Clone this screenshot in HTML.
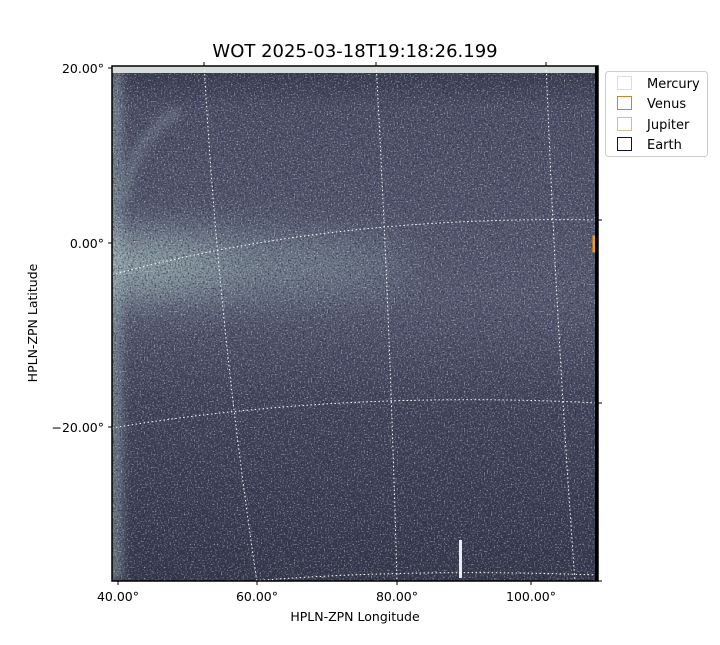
<!DOCTYPE html>
<html><head><meta charset="utf-8"><style>
body{margin:0;background:#fff;width:720px;height:640px;overflow:hidden;font-family:"Liberation Sans","DejaVu Sans",sans-serif}
</style></head><body>
<svg width="720" height="640" xmlns="http://www.w3.org/2000/svg" font-family="DejaVu Sans, Liberation Sans, sans-serif">
<defs>
<filter id="n" x="0" y="0" width="100%" height="100%">
<feTurbulence type="fractalNoise" baseFrequency="0.7" numOctaves="1" seed="4"/>
<feColorMatrix type="matrix" values="0 0 0 0 0.85  0 0 0 0 0.9  0 0 0 0 0.92  0 0 0 3.5 -1.9"/>
</filter>
<filter id="d" x="0" y="0" width="100%" height="100%">
<feTurbulence type="fractalNoise" baseFrequency="0.6" numOctaves="1" seed="9"/>
<feColorMatrix type="matrix" values="0 0 0 0 0.02  0 0 0 0 0.02  0 0 0 0 0.05  0 0 0 3.5 -1.75"/>
</filter>
<filter id="b" x="-100%" y="-300%" width="300%" height="700%"><feGaussianBlur stdDeviation="22"/></filter>
<filter id="b2" x="-200%" y="-50%" width="500%" height="200%"><feGaussianBlur stdDeviation="5"/></filter>
<linearGradient id="v" x1="0" y1="0" x2="0" y2="1">
<stop offset="0" stop-color="#35374a"/><stop offset="0.08" stop-color="#4a4d64"/>
<stop offset="0.45" stop-color="#555970"/><stop offset="0.65" stop-color="#42445b"/>
<stop offset="1" stop-color="#35374b"/></linearGradient>
<clipPath id="c"><rect x="112" y="66" width="486" height="515"/></clipPath>
</defs>
<text x="355" y="57" font-size="18" text-anchor="middle">WOT 2025-03-18T19:18:26.199</text>
<g clip-path="url(#c)">
<rect x="112" y="66" width="486" height="515" fill="url(#v)"/>
<ellipse cx="110" cy="265" rx="300" ry="30" fill="#9fbab8" opacity="0.45" filter="url(#b)"/>
<ellipse cx="110" cy="265" rx="120" ry="22" fill="#b0cac6" opacity="0.5" filter="url(#b)"/>
<rect x="108" y="66" width="14" height="515" fill="#9fb3b5" opacity="0.5" filter="url(#b2)"/>
<path d="M125,200 Q130,140 180,110" stroke="#8fa5a8" stroke-width="8" fill="none" opacity="0.5" filter="url(#b2)"/>
<rect x="112" y="66" width="486" height="515" filter="url(#d)" opacity="0.7"/>
<rect x="112" y="66" width="486" height="515" filter="url(#n)" opacity="0.6"/>
<rect x="112" y="66" width="486" height="7" fill="#d6dcdc"/>
<rect x="459" y="540" width="3" height="38" fill="#e8eeee"/>
<g stroke="#fff" stroke-width="1" stroke-dasharray="1.5,2.5" fill="none">
<path d="M204,62 Q218,320 257,582"/>
<path d="M376,62 Q390,320 397,582"/>
<path d="M546,62 Q556,320 575,582"/>
<path d="M112,275 Q330,215 598,220"/>
<path d="M112,428 Q340,390 598,403"/>
<path d="M112,66 Q170,62 240,62"/>
<path d="M240,582 Q400,568 598,575"/>
</g>
<path d="M598,237 h-4 v14 h4" stroke="#f5a000" stroke-width="3" fill="none"/>
</g>
<rect x="112" y="66" width="486" height="515" fill="none" stroke="#000" stroke-width="1.5"/>
<rect x="595" y="66" width="3" height="515" fill="#000"/>
<g stroke="#000" stroke-width="1">
<line x1="112" y1="68" x2="108" y2="68"/><line x1="112" y1="243" x2="108" y2="243"/><line x1="112" y1="427" x2="108" y2="427"/>
<line x1="598" y1="220" x2="602" y2="220"/><line x1="598" y1="403" x2="602" y2="403"/><line x1="598" y1="581" x2="602" y2="581"/>
<line x1="118" y1="581" x2="118" y2="585"/><line x1="257" y1="581" x2="257" y2="585"/><line x1="397" y1="581" x2="397" y2="585"/><line x1="531" y1="581" x2="531" y2="585"/>
<line x1="204" y1="66" x2="204" y2="62"/><line x1="376" y1="66" x2="376" y2="62"/><line x1="546" y1="66" x2="546" y2="62"/>
</g>
<g font-size="12.5">
<text x="104" y="73" text-anchor="end">20.00°</text>
<text x="104" y="248" text-anchor="end">0.00°</text>
<text x="104" y="432" text-anchor="end">−20.00°</text>
<text x="118" y="601" text-anchor="middle">40.00°</text>
<text x="257" y="601" text-anchor="middle">60.00°</text>
<text x="397" y="601" text-anchor="middle">80.00°</text>
<text x="531" y="601" text-anchor="middle">100.00°</text>
<text x="355" y="621" text-anchor="middle">HPLN-ZPN Longitude</text>
<text transform="translate(37,323) rotate(-90)" text-anchor="middle">HPLN-ZPN Latitude</text>
</g>
<rect x="605.5" y="71.5" width="102" height="85" rx="3" fill="#fff" stroke="#ccc"/>
<g fill="none" stroke-width="1">
<rect x="617.5" y="76.5" width="14" height="13" stroke="#ddd"/>
<rect x="617.5" y="96.5" width="14" height="13" stroke="#d08030"/>
<rect x="617.5" y="117.5" width="14" height="13" stroke="#d8b890"/>
<rect x="617.5" y="137.5" width="14" height="13" stroke="#101040"/>
</g>
<g font-size="13">
<text x="647" y="88">Mercury</text><text x="647" y="108">Venus</text>
<text x="647" y="129">Jupiter</text><text x="647" y="149">Earth</text>
</g>
</svg>
</body></html>
